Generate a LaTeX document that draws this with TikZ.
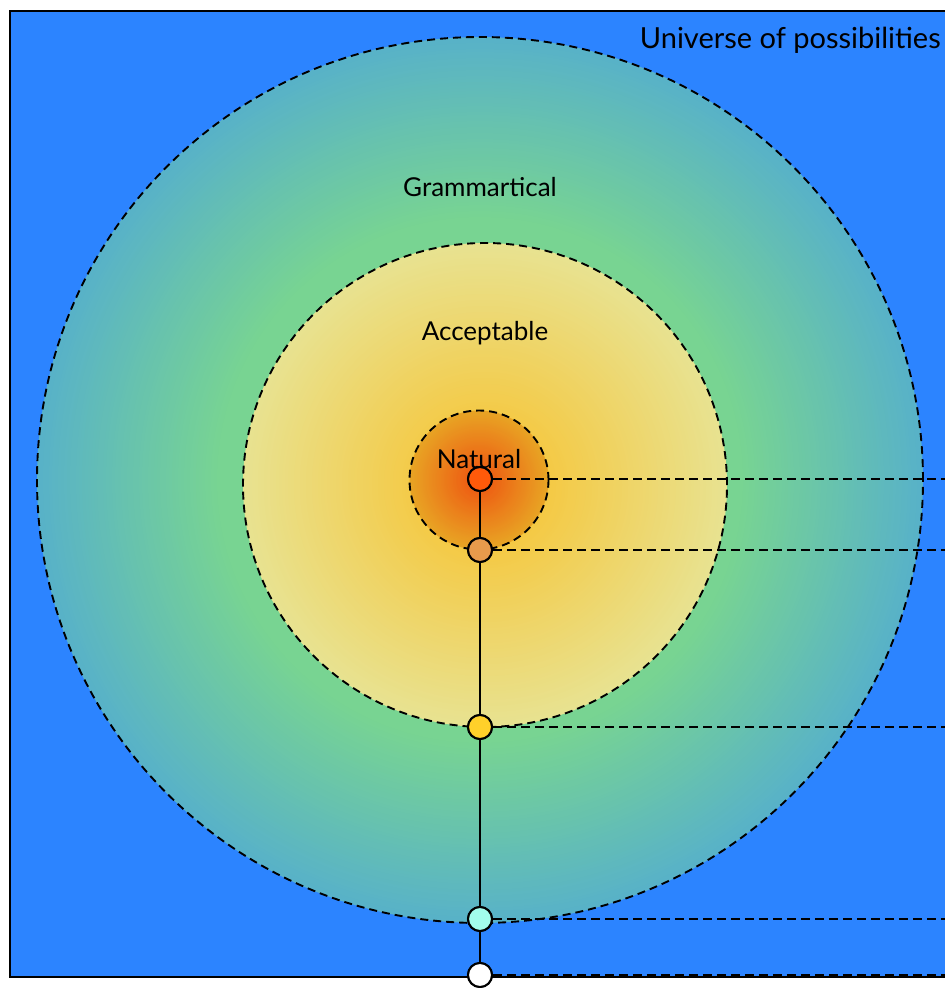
\documentclass[tikz,border=0pt]{standalone}
\usepackage{fontspec}
\setmainfont{Lato}
\definecolor{bgblue}{HTML}{2C84FF}
\definecolor{gmid}{HTML}{78D492}
\definecolor{gedge}{HTML}{58B2C8}
\definecolor{acenter}{HTML}{F6C63A}
\definecolor{aedge}{HTML}{E8E290}
\definecolor{ncenter}{HTML}{EE5A12}
\definecolor{nedge}{HTML}{E8A424}
\definecolor{dotred}{HTML}{FF5A0A}
\definecolor{dotorange}{HTML}{E89A4C}
\definecolor{dotyellow}{HTML}{FFD02A}
\definecolor{dotcyan}{HTML}{A2FCEC}
\tikzset{
  region/.style={circle, draw=black, line width=1.9pt, dash pattern=on 8pt off 5pt, inner sep=0pt},
  dot/.style={circle, draw=black, line width=2pt, minimum size=24pt, inner sep=0pt},
  guide/.style={draw=black, line width=2pt, dash pattern=on 9pt off 5pt},
  spine/.style={draw=black, line width=2pt},
  lbl/.style={font=\fontsize{26}{30}\selectfont, text=black, inner sep=0pt},
  biglbl/.style={font=\fontsize{29}{33}\selectfont, text=black, inner sep=0pt}
}
\begin{document}
\begin{tikzpicture}[x=1pt,y=-1pt]
\useasboundingbox (0,0) rectangle (945,988);
\begin{scope}
\clip (0,0) rectangle (945,988);
\node[draw=black, line width=2.2pt, fill=bgblue, anchor=north west, minimum width=960pt, minimum height=966pt, inner sep=0pt] (universe) at (9,10) {};
% graded fill of the grammatical region
\foreach \r in {443,440,...,236} {
  \pgfmathtruncatemacro\p{min(100,(443-\r)/180*100)}
  \fill[gmid!\p!gedge] (480,480) circle[radius=\r pt];
}
% graded fill of the acceptable region
\foreach \r in {242,239,...,2} {
  \pgfmathtruncatemacro\p{min(100,(242-\r)/200*100)}
  \fill[acenter!\p!aedge] (485,485) circle[radius=\r pt];
}
% graded fill of the natural region
\foreach \r in {69.5,68,...,1} {
  \pgfmathtruncatemacro\p{min(100,(69.5-\r)/62*100)}
  \fill[ncenter!\p!nedge] (479,480) circle[radius=\r pt];
}
\node[region, minimum size=886pt] (gram) at (480,480) {};
\node[region, minimum size=484pt] (acc) at (485,485) {};
\node[region, minimum size=139pt] (nat) at (479,480) {};
\node[biglbl, anchor=east] (tuniv) at (941,40) {Universe of possibilities};
\node[lbl] (tgram) at (480,187) {Grammartical};
\node[lbl] (tacc) at (485,333) {Acceptable};
\node[lbl] (tnat) at (479,459) {Natural};
\node[dot, fill=dotred] (d1) at (480,479) {};
\node[dot, fill=dotorange] (d2) at (480,550) {};
\node[dot, fill=dotyellow] (d3) at (480,727) {};
\node[dot, fill=dotcyan] (d4) at (480,919) {};
\node[dot, fill=white] (d5) at (480,975) {};
\coordinate (e1) at (960,479);
\coordinate (e2) at (960,550);
\coordinate (e3) at (960,727);
\coordinate (e4) at (960,919);
\coordinate (e5) at (960,975);
\draw[spine] (d1) -- (d2) -- (d3) -- (d4) -- (d5);
\draw[guide] (d1.east) -- (e1);
\draw[guide] (d2.east) -- (e2);
\draw[guide] (d3.east) -- (e3);
\draw[guide] (d4.east) -- (e4);
\draw[guide] (d5.east) -- (e5);
\node[dot, fill=dotred] at (d1) {};
\node[dot, fill=dotorange] at (d2) {};
\node[dot, fill=dotyellow] at (d3) {};
\node[dot, fill=dotcyan] at (d4) {};
\node[dot, fill=white] at (d5) {};
\end{scope}
\end{tikzpicture}
\end{document}
